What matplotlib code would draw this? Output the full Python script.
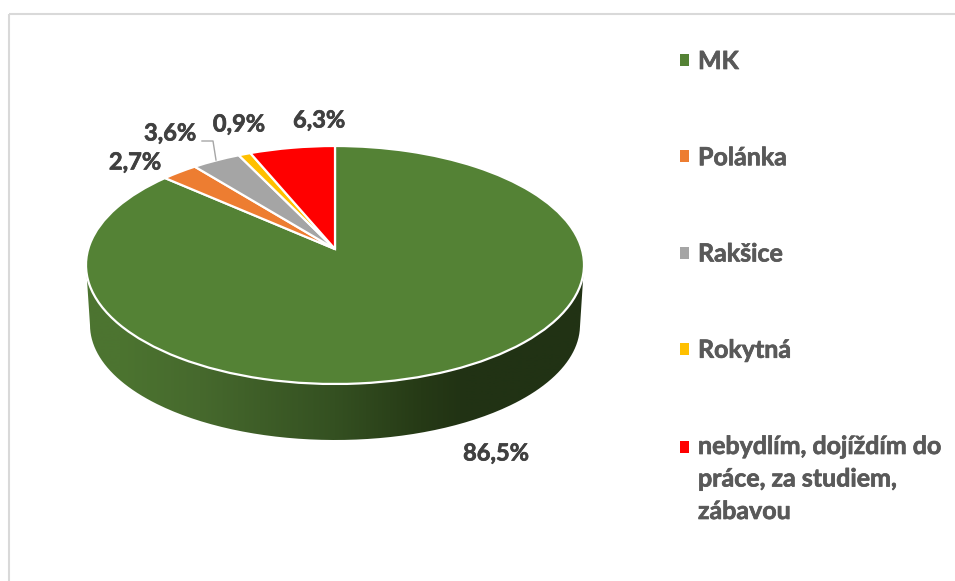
import numpy as np
import matplotlib
matplotlib.use("Agg")
import matplotlib.pyplot as plt
import matplotlib.patheffects as pe
from matplotlib.patches import Patch, PathPatch, Rectangle
from matplotlib.path import Path
from matplotlib.transforms import Transform

plt.rcParams['font.family'] = ['Lato', 'DejaVu Sans']

categories = ['MK', 'Polánka', 'Rakšice', 'Rokytná',
              'nebydlím, dojíždím do\npráce, za studiem,\nzábavou']
values = [86.5, 2.7, 3.6, 0.9, 6.3]
colors = ['#548235', '#ED7D31', '#A5A5A5', '#FFC000', '#FF0000']
label_xy = [(496, 453), (135, 162), (170, 133), (239, 124), (319, 120)]

W, H = 955, 581
CX, CY, RX, RY = 335.0, 265.0, 249.0, 119.0
K = 0.134  # perspective shift of the pie centre


class Perspective(Transform):
    input_dims = 2
    output_dims = 2

    def transform_non_affine(self, pts):
        pts = np.asarray(pts, float)
        x, y = pts[:, 0], pts[:, 1]
        d = 1 + K * y
        xp = x * np.sqrt(1 - K ** 2) / d
        yp = (y + K) / d
        return np.column_stack([CX + RX * xp, CY - RY * yp])

    def inverted(self):
        raise NotImplementedError


fig = plt.figure(figsize=(W / 100, H / 100), dpi=100, facecolor='white')
ax = fig.add_axes([0, 0, 1, 1])

wedges, _ = ax.pie(values, colors=colors, startangle=90, counterclock=False,
                   radius=1.0, wedgeprops=dict(edgecolor='white', linewidth=1.6))
persp = Perspective()
for w in wedges:
    w.set_transform(persp + ax.transData)
    w.set_zorder(3)

# side wall of the 3D pie
t = np.linspace(0, np.pi, 200)
bx, by = CX + 245 * np.cos(t), 325 + 115 * np.sin(t)
verts = np.vstack([[(CX + RX, CY)], np.column_stack([bx, by]), [(CX - RX, CY)], [(CX + RX, CY)]])
stops_x = [86, 120, 200, 335, 420, 465, 584]
stops_c = np.array([(76, 116, 48), (76, 116, 48), (70, 105, 45), (52, 80, 33),
                    (38, 58, 22), (33, 50, 20), (33, 50, 20)], float) / 255
xs = np.linspace(86, 584, 500)
grad = np.stack([np.interp(xs, stops_x, stops_c[:, i]) for i in range(3)], axis=-1)[None, :, :]
im = ax.imshow(grad, extent=(86, 584, 442, 265), aspect='auto', zorder=1, interpolation='bilinear')
clip = PathPatch(Path(verts), transform=ax.transData, facecolor='none', edgecolor='none')
ax.add_patch(clip)
im.set_clip_path(clip)

ax.set_aspect('auto')
ax.set_xlim(0, W)
ax.set_ylim(H, 0)
ax.set_axis_off()

# chart-area border
ax.add_patch(Rectangle((8.5, 13.5), W + 50, H + 50, facecolor='none',
                       edgecolor='#D9D9D9', linewidth=1.5, zorder=0))

# data labels
for v, (x, y) in zip(values, label_xy):
    ax.text(x, y, f'{v:.1f}%'.replace('.', ','), ha='center', va='center',
            fontsize=17, fontweight='bold', color='#404040', zorder=5,
            path_effects=[pe.withStroke(linewidth=0.5, foreground='#404040')])
ax.plot([202, 213, 216], [141, 141, 160], color='#A6A6A6', lw=1.0, zorder=4)

# legend
handles = [Patch(facecolor=c, edgecolor='none') for c in colors]
leg = ax.legend(handles, categories, loc='upper left',
                bbox_to_anchor=(680, 50), bbox_transform=ax.transData,
                frameon=False, borderpad=0, borderaxespad=0,
                handlelength=0.36, handleheight=0.36, handletextpad=0.36,
                labelspacing=2.93, prop=dict(family='Lato', weight='bold', size=18))
for txt in leg.get_texts():
    txt.set_color('#595959')
    txt.set_linespacing(1.5)
    txt.set_path_effects([pe.withStroke(linewidth=0.5, foreground='#595959')])
last = leg.legend_handles[-1]
last.set_y(last.get_y() + 23.4)

fig.savefig('out.png', dpi=100, facecolor='white')
